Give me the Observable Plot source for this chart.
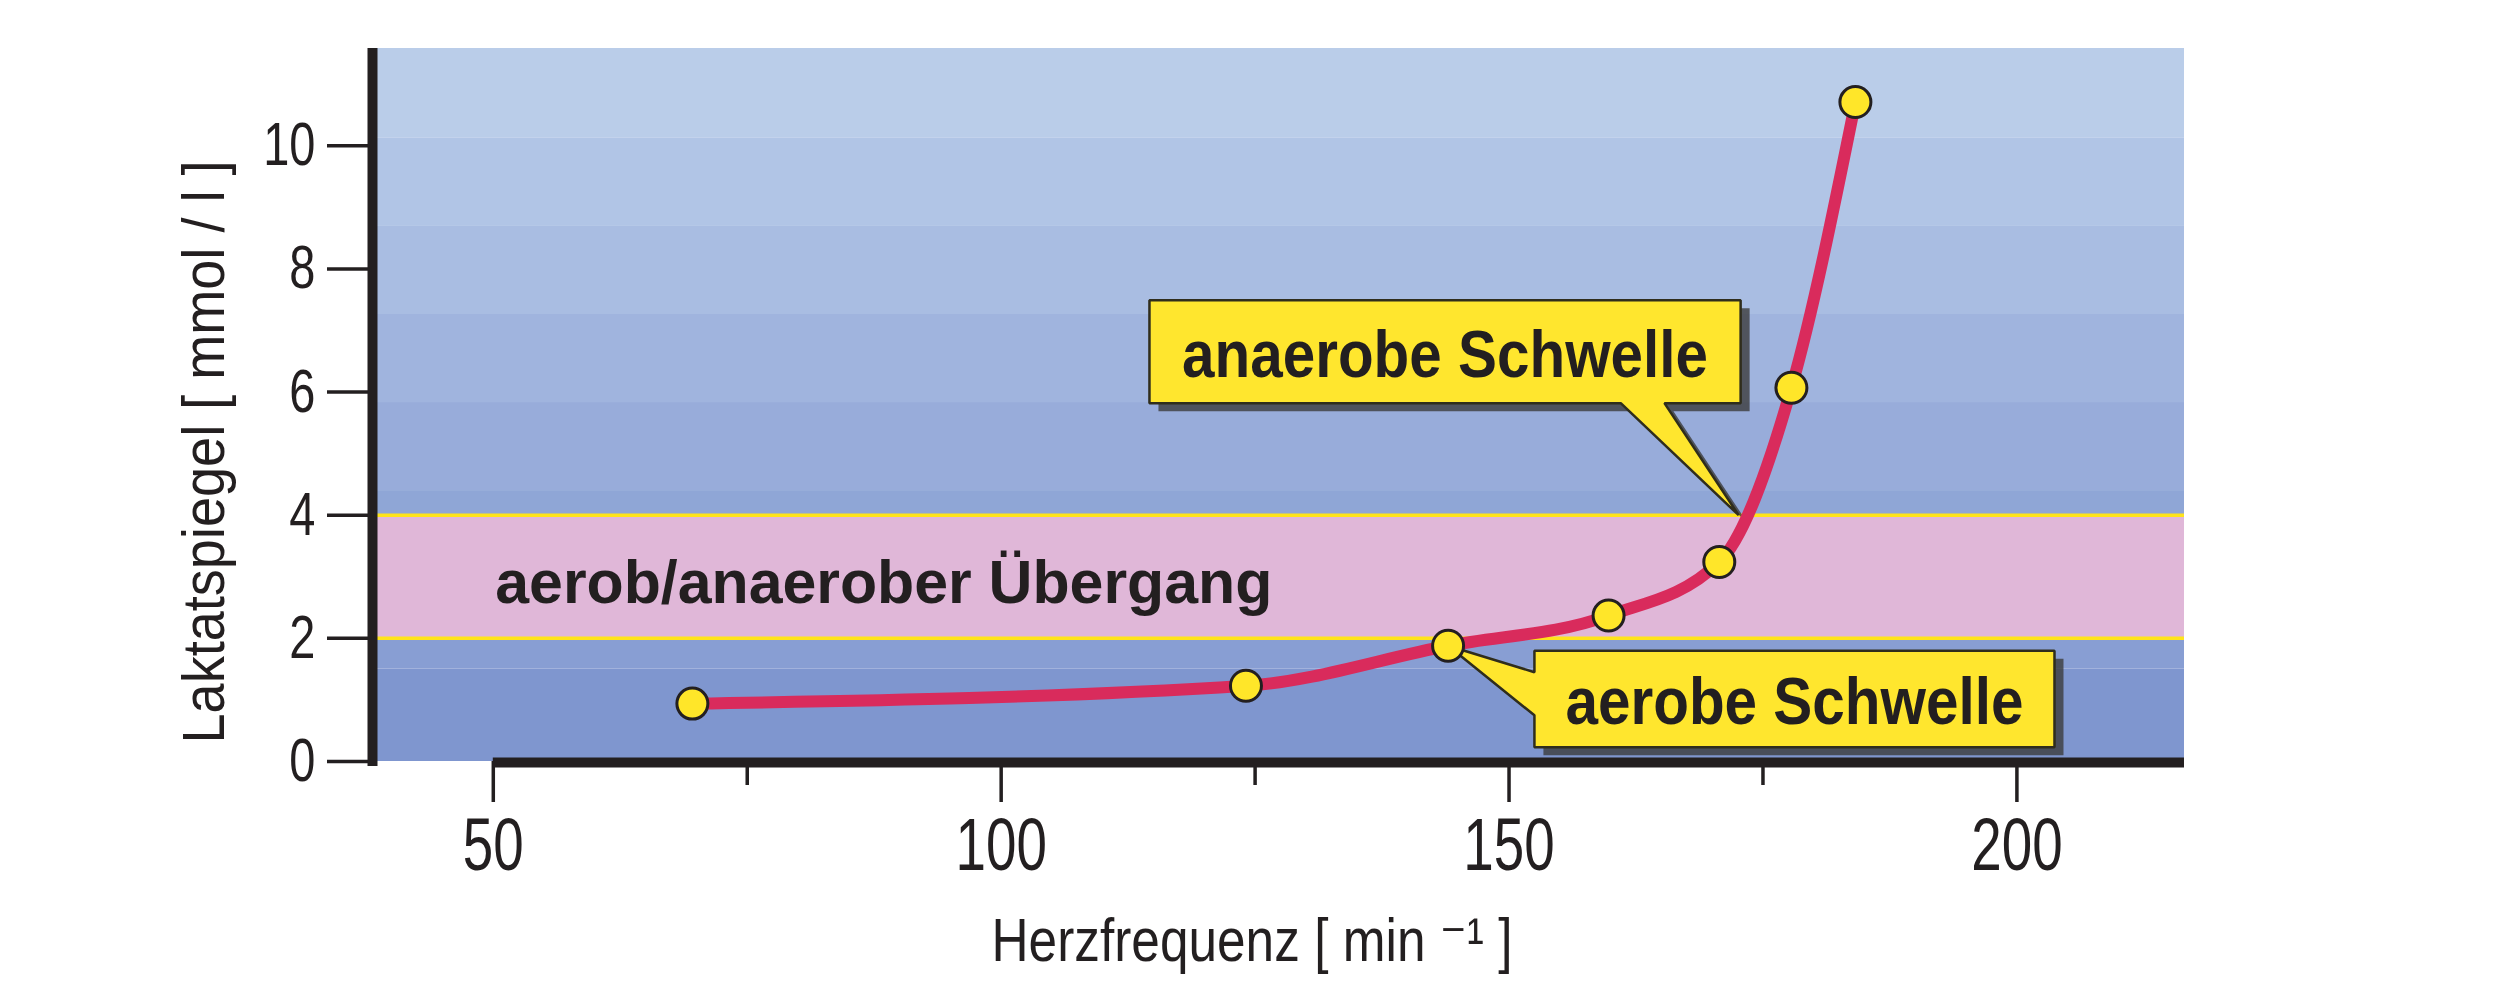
<!DOCTYPE html>
<html>
<head>
<meta charset="utf-8">
<script src="https://cdn.jsdelivr.net/npm/d3@7"></script>
<script src="https://cdn.jsdelivr.net/npm/@observablehq/plot@0.6"></script>
<style>
  html, body { margin: 0; padding: 0; background: #ffffff; }
  #chart svg { display: block; }
</style>
</head>
<body>
<div id="chart"></div>
<script>
// ---------------- data ----------------
const heartRate = [69.6, 124.1, 144.0, 159.8, 170.7, 177.8, 184.1];   // Herzfrequenz [min^-1]
const lactate   = [0.94, 1.23, 1.88, 2.37, 3.24, 6.07, 10.71];        // Laktatspiegel [mmol/l]

const xTicks      = [50, 100, 150, 200];
const xMinorTicks = [75, 125, 175];
const yTicks      = [0, 2, 4, 6, 8, 10];

const xDomain = [38.6, 216.5];
const yDomain = [0, 11.58];

// background stripes (lactate values of the stripe edges)
const bandEdges = [0, 1.5, 2.95, 4.4, 5.83, 7.26, 8.69, 10.13, 11.58];

// aerob/anaerober Übergang zone
const zoneLow = 2;
const zoneHigh = 4;
const zoneLabel = "aerob/anaerober Übergang";
const zoneLabelX = 50;

// callouts
const calloutLabels = ["anaerobe Schwelle", "aerobe Schwelle"];
const calloutBoxX   = [[114.6, 172.8], [152.5, 203.7]];
const calloutBoxY   = [[5.82, 7.49], [0.23, 1.80]];
const calloutBase   = [[161.0, 165.3], [0.75, 1.45]]; // pointer base: x-range on bottom edge / y-range on left edge

const xTitle = "Herzfrequenz [ min \u207B\u00B9 ]";
const yTitle = "Laktatspiegel [ mmol / l ]";

// ---------------- styles ----------------
const bandColors = ["#7f96cf", "#889ed3", "#8fa6d6", "#98acda", "#a0b4de", "#a9bde2", "#b1c5e6", "#bacde9"];
const ink = "#231f20";
const FONT = "'Liberation Sans', Arial, 'DejaVu Sans', sans-serif";

// ---------------- derived tables ----------------
const points = heartRate.map((x, i) => ({x, y: lactate[i]}));
const bands = bandEdges.slice(0, -1).map((y1, i) => ({y1, y2: bandEdges[i + 1], fill: bandColors[i]}));

function crossing(level) {
  for (let i = 1; i < points.length; i++) {
    const a = points[i - 1], b = points[i];
    if (a.y <= level && b.y >= level) return {x: a.x + (b.x - a.x) * (level - a.y) / (b.y - a.y), y: level};
  }
}
const anaerobTip = crossing(zoneHigh);
const aerobTip = points[2];

function calloutPolygon(i) {
  const [x1, x2] = calloutBoxX[i], [y1, y2] = calloutBoxY[i];
  if (i === 0) {
    const [bL, bR] = calloutBase[0];
    return [[x1, y2], [x2, y2], [x2, y1], [bR, y1], [anaerobTip.x, anaerobTip.y], [bL, y1], [x1, y1]];
  } else {
    const [bLo, bHi] = calloutBase[1];
    return [[x1, y2], [x2, y2], [x2, y1], [x1, y1], [x1, bLo], [aerobTip.x, aerobTip.y], [x1, bHi]];
  }
}
const calloutPoly = calloutLabels.flatMap((label, i) => calloutPolygon(i).map(([x, y]) => ({id: i, x, y})));
const calloutText = calloutLabels.map((label, i) => ({
  label,
  x: (calloutBoxX[i][0] + calloutBoxX[i][1]) / 2,
  y: (calloutBoxY[i][0] + calloutBoxY[i][1]) / 2
}));

// ---------------- chart ----------------
const chart = Plot.plot({
  width: 2502,
  height: 983,
  marginLeft: 377,
  marginRight: 318,
  marginTop: 48,
  marginBottom: 222,
  x: {domain: xDomain},
  y: {domain: yDomain},
  color: {type: "identity"},
  style: {fontFamily: FONT, background: "#ffffff", color: ink, overflow: "visible"},
  marks: [
    Plot.rectY(bands, {y1: "y1", y2: "y2", fill: "fill"}),
    Plot.rectY([{y1: zoneLow, y2: zoneHigh}], {y1: "y1", y2: "y2", fill: "#e0b7d8"}),
    Plot.ruleY([zoneLow, zoneHigh], {stroke: "#ffe41a", strokeWidth: 3.5}),
    Plot.text([zoneLabel], {x: zoneLabelX, y: (zoneLow + zoneHigh) / 2, text: d => d, textAnchor: "start", lineAnchor: "middle",
      dx: 2, dy: 7, fontSize: 61, fontWeight: "bold", fill: ink}),

    // callouts
    Plot.line(calloutPoly, {x: "x", y: "y", z: "id", curve: "linear-closed", fill: "#3c3c3c", fillOpacity: 0.8, stroke: "none", dx: 9, dy: 8}),
    Plot.line(calloutPoly, {x: "x", y: "y", z: "id", curve: "linear-closed", fill: "#ffe62e", stroke: "#2f2d1c", strokeWidth: 2.5, strokeLinejoin: "miter"}),
    Plot.text(calloutText, {x: "x", y: "y", text: "label", lineAnchor: "middle", dy: 4, fontSize: 66, fontWeight: "bold", fill: ink}),

    // data
    Plot.line(points, {x: "x", y: "y", stroke: "#d92b5c", strokeWidth: 12, curve: "monotone-x"}),
    Plot.dot(points, {x: "x", y: "y", r: 15.5, fill: "#ffe629", stroke: ink, strokeWidth: 3}),

    // axes
    Plot.axisY(yTicks, {tickSize: 50, tickPadding: 12, tickFormat: d3.format("d"), fontSize: 61, stroke: ink, strokeWidth: 3.5, fill: ink, label: null}),
    Plot.axisX(xTicks, {tickSize: 41, tickPadding: 15, tickFormat: d3.format("d"), fontSize: 74, stroke: ink, strokeWidth: 3.5, fill: ink, label: null}),
    Plot.axisX(xMinorTicks, {tickSize: 24, stroke: ink, strokeWidth: 3.5, fill: null, label: null}),
    Plot.ruleX([xDomain[0]], {y1: yDomain[0], y2: yDomain[1], insetTop: 5, dx: -5, stroke: ink, strokeWidth: 10}),
    Plot.ruleY([yDomain[0]], {x1: xTicks[0], x2: xDomain[1], dy: 1, stroke: ink, strokeWidth: 10}),

    // titles
    Plot.text([xTitle], {frameAnchor: "bottom", text: d => d, textAnchor: "middle", lineAnchor: "middle", dx: -29, dy: 180, fontSize: 62, fill: ink}),
    Plot.text([yTitle], {frameAnchor: "left", text: d => d, textAnchor: "middle", rotate: -90, lineAnchor: "middle", dx: -173, dy: 47, fontSize: 60, fill: ink})
  ]
});

document.getElementById("chart").append(chart);

// ---- condensed look: compress glyphs like the original condensed typeface ----
function squeeze(t, width) {
  t.setAttribute("textLength", width);
  t.setAttribute("lengthAdjust", "spacingAndGlyphs");
}
chart.querySelectorAll('g[aria-label="y-axis tick label"] text').forEach(t => squeeze(t, t.getComputedTextLength() * 0.77));
chart.querySelectorAll('g[aria-label="x-axis tick label"] text').forEach(t => squeeze(t, t.getComputedTextLength() * 0.74));

const targetWidths = new Map([
  ["anaerobe Schwelle", 526],
  ["aerobe Schwelle", 458],
  [zoneLabel, 777],
  [yTitle, 583],
  [xTitle, 521]
]);
chart.querySelectorAll("text").forEach(t => {
  const content = t.textContent;
  if (targetWidths.has(content)) squeeze(t, targetWidths.get(content));
});
</script>
</body>
</html>
